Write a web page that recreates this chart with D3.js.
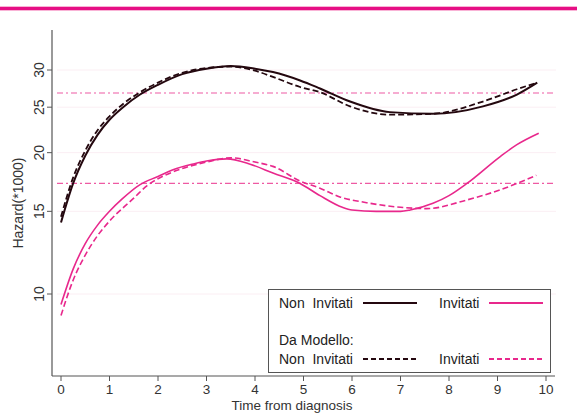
<!DOCTYPE html>
<html>
<head>
<meta charset="utf-8">
<script src="https://cdn.jsdelivr.net/npm/d3@7"></script>
<style>
  body { margin: 0; background: #fff; }
  text { font-family: "Liberation Sans", Arial, sans-serif; }
</style>
</head>
<body>
<div id="chart"></div>
<script>
// hazard (*1000), time in years
var nonInvT   = [0, 0.25, 0.5, 0.75, 1, 1.28, 1.63, 2, 2.5, 3, 3.5, 4, 4.37, 4.93, 5.34, 5.96, 6.78, 7.67, 8.7, 9.4, 9.82];
var nonInvObs = [14.2, 17.2, 19.7, 21.8, 23.5, 25.0, 26.6, 27.9, 29.4, 30.2, 30.6, 30.2, 29.7, 28.5, 27.4, 25.7, 24.4, 24.2, 25.1, 26.6, 28.2];
var nonInvMod = [14.6, 17.7, 20.2, 22.3, 23.9, 25.4, 26.9, 28.2, 29.6, 30.3, 30.5, 29.9, 29.0, 27.6, 26.9, 25.1, 24.1, 24.2, 25.7, 27.3, 28.2];

var invT      = [0, 0.25, 0.5, 0.75, 1, 1.25, 1.63, 2, 2.31, 2.75, 3, 3.42, 3.9, 4.37, 4.93, 5.34, 5.8, 6, 6.5, 7, 7.2, 7.67, 8, 8.37, 9.05, 9.4, 9.85];
var invObs    = [9.5, 11.3, 12.8, 14.0, 15.0, 15.9, 17.1, 17.8, 18.4, 18.95, 19.2, 19.4, 18.9, 18.1, 17.2, 16.2, 15.3, 15.1, 15.0, 15.0, 15.1, 15.6, 16.2, 17.2, 19.6, 20.8, 22.0];
var invModT   = [0, 0.25, 0.5, 0.75, 1, 1.5, 1.77, 2, 2.5, 3, 3.5, 4, 4.37, 4.93, 5.34, 5.75, 6.3, 7, 7.54, 8.37, 9.05, 9.8];
var invMod    = [9.0, 10.7, 12.1, 13.3, 14.3, 16.0, 17.0, 17.6, 18.5, 19.1, 19.5, 19.1, 18.7, 17.4, 16.8, 16.1, 15.65, 15.3, 15.2, 15.86, 16.66, 17.9];

var refLines = [26.8, 17.2];   // dash-dot reference levels
var xTicks = d3.range(0, 11);
var yTicks = [10, 15, 20, 25, 30];

var width = 577, height = 413;
var black = "#24080f", pink = "#e8288c";

var svg = d3.select("#chart").append("svg")
    .attr("width", width)
    .attr("height", height);

// magenta band on top
svg.append("rect").attr("x", 0).attr("y", 6).attr("width", width).attr("height", 5).attr("fill", "#f9b3d6");
svg.append("rect").attr("x", 0).attr("y", 7).attr("width", width).attr("height", 3).attr("fill", "#e60f85");

var x = d3.scaleLinear().domain([0, 10]).range([61, 546]);
var y = d3.scaleLog().domain([10, 30]).range([294, 70]);

var plotLeft = 52, plotRight = 555, plotTop = 30, plotBottom = 376;

// faint grid
svg.selectAll(".grid").data(yTicks).enter().append("line")
    .attr("x1", 57).attr("x2", 556)
    .attr("y1", d => y(d)).attr("y2", d => y(d))
    .attr("stroke", "#fbeef3").attr("stroke-width", 1);

// reference dash-dot lines
svg.selectAll(".ref").data(refLines).enter().append("line")
    .attr("x1", 57).attr("x2", 556)
    .attr("y1", d => y(d)).attr("y2", d => y(d))
    .attr("stroke", "#ee5aa3").attr("stroke-width", 1.2)
    .attr("stroke-dasharray", "6,3,2,3");

// axes
var axisCol = "#555";
svg.append("line").attr("x1", plotLeft).attr("x2", plotLeft).attr("y1", plotTop).attr("y2", plotBottom)
    .attr("stroke", axisCol).attr("stroke-width", 1.2);
svg.append("line").attr("x1", plotLeft).attr("x2", plotRight).attr("y1", plotBottom).attr("y2", plotBottom)
    .attr("stroke", axisCol).attr("stroke-width", 1.2);

svg.selectAll(".xt").data(xTicks).enter().append("line")
    .attr("x1", d => x(d)).attr("x2", d => x(d))
    .attr("y1", plotBottom).attr("y2", plotBottom + 5)
    .attr("stroke", axisCol);
svg.selectAll(".xl").data(xTicks).enter().append("text")
    .attr("x", d => x(d)).attr("y", plotBottom + 18)
    .attr("text-anchor", "middle").attr("font-size", 13.5).attr("fill", "#333")
    .text(d => d);

svg.selectAll(".yt").data(yTicks).enter().append("line")
    .attr("x1", plotLeft - 5).attr("x2", plotLeft)
    .attr("y1", d => y(d)).attr("y2", d => y(d))
    .attr("stroke", axisCol);
svg.selectAll(".yl").data(yTicks).enter().append("text")
    .attr("transform", d => "translate(44," + y(d) + ") rotate(-90)")
    .attr("text-anchor", "middle").attr("font-size", 14).attr("fill", "#333")
    .text(d => d);

svg.append("text")
    .attr("transform", "translate(23,203) rotate(-90)")
    .attr("text-anchor", "middle").attr("font-size", 14).attr("fill", "#333")
    .text("Hazard(*1000)");
svg.append("text")
    .attr("x", 292).attr("y", 409.5)
    .attr("text-anchor", "middle").attr("font-size", 13.5).attr("fill", "#333")
    .text("Time from diagnosis");

// curves
var line = d3.line()
    .x(d => x(d[0])).y(d => y(d[1]))
    .curve(d3.curveMonotoneX);

function drawCurve(ts, vs, color, w, dash) {
  svg.append("path")
      .datum(ts.map((t, i) => [t, vs[i]]))
      .attr("d", line)
      .attr("fill", "none")
      .attr("stroke", color)
      .attr("stroke-width", w)
      .attr("stroke-dasharray", dash);
}

drawCurve(nonInvT, nonInvMod, black, 1.8, "6,3");
drawCurve(nonInvT, nonInvObs, black, 2, null);
drawCurve(invModT, invMod, pink, 1.6, "6,3");
drawCurve(invT, invObs, pink, 1.6, null);

// legend
var lg = svg.append("g");
lg.append("rect").attr("x", 268.5).attr("y", 289.5).attr("width", 282).attr("height", 83)
    .attr("fill", "#fff").attr("stroke", "#555").attr("stroke-width", 1);

var legRows = [
  {label: "Non\u00a0 Invitati", lx: 279, x1: 363, x2: 417, y: 303, color: black, dash: null},
  {label: "Invitati", lx: 439, x1: 489, x2: 543, y: 303, color: pink, dash: null},
  {label: "Non\u00a0 Invitati", lx: 279, x1: 363, x2: 417, y: 359, color: black, dash: "5,3"},
  {label: "Invitati", lx: 439, x1: 489, x2: 543, y: 359, color: pink, dash: "5,3"}
];
legRows.forEach(r => {
  lg.append("text").attr("x", r.lx).attr("y", r.y + 5).attr("font-size", 14).attr("fill", "#222").text(r.label);
  lg.append("line").attr("x1", r.x1).attr("x2", r.x2).attr("y1", r.y).attr("y2", r.y)
      .attr("stroke", r.color).attr("stroke-width", 1.8).attr("stroke-dasharray", r.dash);
});
lg.append("text").attr("x", 279).attr("y", 345).attr("font-size", 14).attr("fill", "#222").text("Da Modello:");
</script>
</body>
</html>
